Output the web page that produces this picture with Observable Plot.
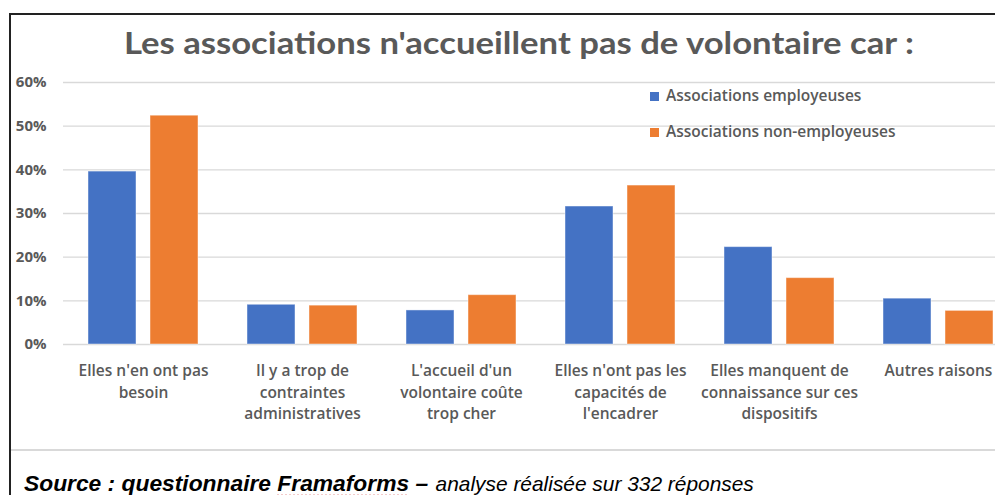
<!DOCTYPE html>
<html><head><meta charset="utf-8">
<script src="https://cdn.jsdelivr.net/npm/d3@7"></script>
<script src="https://cdn.jsdelivr.net/npm/@observablehq/plot@0.6"></script>
<style>
html,body{margin:0;padding:0;background:#fff;}
#wrap{position:relative;width:995px;height:495px;overflow:hidden;background:#fff;font-family:"Open Sans","Noto Sans",sans-serif;}
#title{position:absolute;left:0;top:20px;width:1038px;text-align:center;white-space:nowrap;font-family:Lato,"Noto Sans",sans-serif;}
#title span{display:inline-block;font-size:30px;font-weight:bold;color:#595959;transform-origin:center;line-height:44px;}
#chart{position:absolute;left:0;top:0;width:1019px;}
#chart svg{color:#595959;font-family:"Open Sans","Noto Sans",sans-serif;overflow:visible;max-width:none !important;}
#legend{position:absolute;left:0;top:0;color:#595959;font-size:15.5px;font-weight:600;}
#legend .sw{position:absolute;width:9px;height:9px;}
#legend .lab{position:absolute;line-height:20px;white-space:nowrap;}
#sep{position:absolute;left:11px;top:449px;width:990px;height:2px;background:#d9d9d9;}
#caption{position:absolute;left:24px;top:470px;font-family:"Liberation Sans",Arial,sans-serif;font-style:italic;color:#000;white-space:nowrap;line-height:26px;}
#caption b{font-size:22.8px;}
#caption .u{text-decoration:underline dotted #d03030;text-underline-offset:4px;}
#caption .small{font-size:20.9px;margin-left:3px;}
#frameTop{position:absolute;left:9px;top:13px;width:990px;height:2px;background:#222;}
#frameLeft{position:absolute;left:9px;top:13px;width:2px;height:490px;background:#222;}
</style></head><body>
<div id="wrap">
  <div id="chart"></div>
  <div id="title"><span id="titleText">Les associations n'accueillent pas de volontaire car :</span></div>
  <div id="legend"></div>
  <div id="sep"></div>
  <div id="caption"><b>Source : questionnaire <span class="u">Framaforms</span> –</b> <span class="small">analyse réalisée sur 332 réponses</span></div>
  <div id="frameTop"></div>
  <div id="frameLeft"></div>
</div>
<script>
const categories = [
  "Elles n'en ont pas besoin",
  "Il y a trop de contraintes administratives",
  "L'accueil d'un volontaire coûte trop cher",
  "Elles n'ont pas les capacités de l'encadrer",
  "Elles manquent de connaissance sur ces dispositifs",
  "Autres raisons"
];
const tickLabels = [
  "Elles n'en ont pas\nbesoin",
  "Il y a trop de\ncontraintes\nadministratives",
  "L'accueil d'un\nvolontaire coûte\ntrop cher",
  "Elles n'ont pas les\ncapacités de\nl'encadrer",
  "Elles manquent de\nconnaissance sur ces\ndispositifs",
  "Autres raisons"
];
const seriesNames = ["Associations employeuses", "Associations non-employeuses"];
const employeuses = [39.6, 9.1, 7.8, 31.6, 22.3, 10.5];
const nonEmployeuses = [52.4, 8.9, 11.3, 36.4, 15.2, 7.7];
const seriesColors = ["#4472C4", "#ED7D31"];
const yTicks = [0, 10, 20, 30, 40, 50, 60];

const rowsA = categories.map((c, i) => ({category: c, series: seriesNames[0], value: employeuses[i]}));
const rowsB = categories.map((c, i) => ({category: c, series: seriesNames[1], value: nonEmployeuses[i]}));

const chart = Plot.plot({
  width: 1019,
  height: 460,
  marginLeft: 63,
  marginRight: 0,
  marginTop: 82,
  marginBottom: 116,
  x: {domain: categories, paddingInner: 0.696, paddingOuter: 0.348, axis: null},
  y: {domain: [0, 60], axis: null},
  color: {domain: seriesNames, range: seriesColors},
  marks: [
    Plot.ruleY(yTicks, {stroke: "#d9d9d9", strokeWidth: 1.4}),
    Plot.barY(rowsA, {x: "category", y: "value", fill: "series", dx: -31, stroke: "#ffffff", strokeOpacity: 0.45, strokeWidth: 1}),
    Plot.barY(rowsB, {x: "category", y: "value", fill: "series", dx: 31, stroke: "#ffffff", strokeOpacity: 0.45, strokeWidth: 1}),
    Plot.axisY(yTicks, {label: null, tickFormat: d => d + "%", tickSize: 0, tickPadding: 17, fontSize: 15, fontWeight: "bold"}),
    Plot.text(categories, {x: d => d, text: (d, i) => tickLabels[i], frameAnchor: "bottom", lineAnchor: "top", dy: 16, fontSize: 15.5, fontWeight: 600, lineHeight: 1.4, fill: "#595959"})
  ]
});
document.getElementById("chart").appendChild(chart);

const legend = document.getElementById("legend");
seriesNames.forEach((s, i) => {
  const top = 85 + 35.7 * i;
  const sw = document.createElement("div");
  sw.className = "sw";
  sw.style.left = "650px";
  sw.style.top = (top + 7) + "px";
  sw.style.background = seriesColors[i];
  const lab = document.createElement("div");
  lab.className = "lab";
  lab.style.left = "666px";
  lab.style.top = top + "px";
  lab.textContent = s;
  legend.appendChild(sw);
  legend.appendChild(lab);
});

const t = document.getElementById("titleText");
const w = t.getBoundingClientRect().width;
t.style.transform = `scaleX(${790 / w})`;
</script>
</body></html>
